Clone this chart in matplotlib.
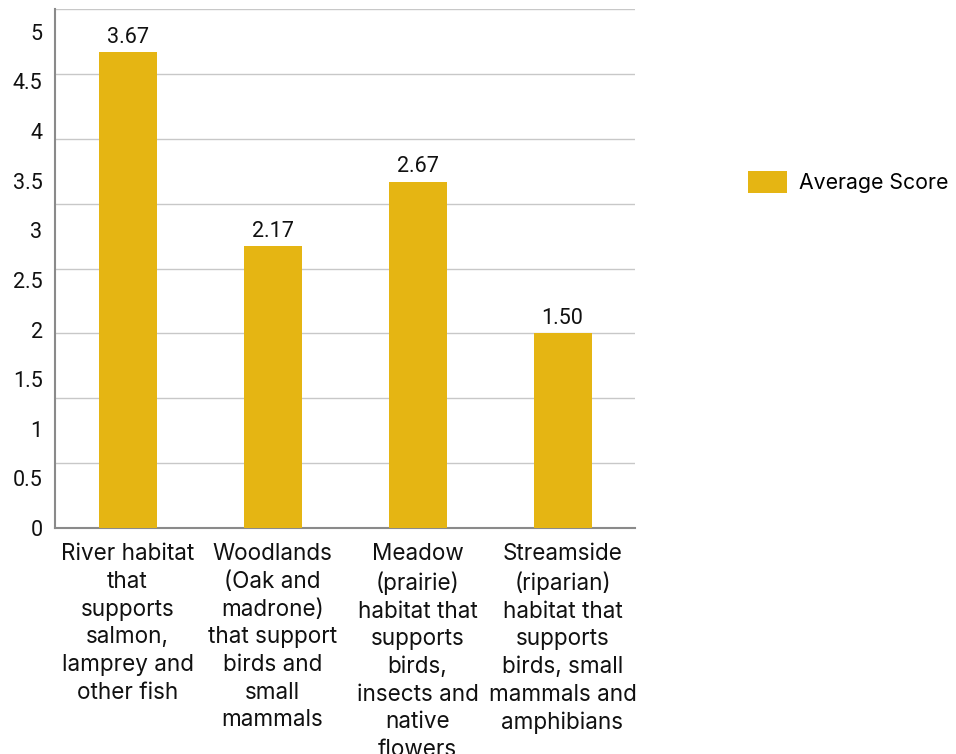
import matplotlib
matplotlib.use("Agg")
import matplotlib.pyplot as plt
import numpy as np
from matplotlib.patches import Patch

categories = [
    "River habitat\nthat\nsupports\nsalmon,\nlamprey and\nother fish",
    "Woodlands\n(Oak and\nmadrone)\nthat support\nbirds and\nsmall\nmammals",
    "Meadow\n(prairie)\nhabitat that\nsupports\nbirds,\ninsects and\nnative\nflowers",
    "Streamside\n(riparian)\nhabitat that\nsupports\nbirds, small\nmammals and\namphibians",
]
values = [3.67, 2.17, 2.67, 1.50]
value_labels = ["3.67", "2.17", "2.67", "1.50"]
tick_labels = ["0", "0.5", "1", "1.5", "2", "2.5", "3", "3.5", "4", "4.5", "5"]
series_name = "Average Score"

bar_color = "#E5B513"
W, H = 956, 754
fig = plt.figure(figsize=(W / 100, H / 100), dpi=100)
ax = fig.add_axes([55 / W, (H - 528) / H, 580 / W, 519 / H])

x = np.arange(len(categories))
ax.bar(x, values, width=0.4, color=bar_color, zorder=3)
ax.set_xlim(-0.5, len(categories) - 0.5)
ax.set_ylim(0, 4)
ax.set_yticks(np.arange(0, 4.01, 0.5))
ax.yaxis.grid(True, color="#c8c8c8", linewidth=1.0, zorder=0)
ax.tick_params(axis="y", length=0, labelleft=False)
ax.tick_params(axis="x", length=0, pad=11)
ax.set_xticks(x)
ax.set_xticklabels(categories, fontsize=16.2, family="Inter", linespacing=1.335,
                   ha="center", va="top", color="#111111")
for s in ["top", "right"]:
    ax.spines[s].set_visible(False)
for s in ["left", "bottom"]:
    ax.spines[s].set_color("#8a8a8a")
    ax.spines[s].set_linewidth(1.5)

for xi, v, lab in zip(x, values, value_labels):
    ax.annotate(lab, (xi, v), xytext=(0, 3), textcoords="offset points",
                ha="center", va="bottom", fontsize=15.5, family="Roboto",
                color="#111111")

# secondary label axis (labels as shown in the original)
ax2 = ax.twinx()
ax2.set_ylim(0, 5.23)
tick_vals = [float(t) for t in tick_labels]
ax2.set_yticks(tick_vals)
ax2.set_yticklabels(tick_labels, fontsize=15.5, family="Roboto", color="#111111")
ax2.yaxis.set_ticks_position("left")
ax2.yaxis.set_label_position("left")
ax2.tick_params(axis="y", length=0, pad=9)
for s in ax2.spines.values():
    s.set_visible(False)

handles = [Patch(facecolor=bar_color, edgecolor="none", label=series_name)]
fig.legend(handles=handles, loc="center left", bbox_to_anchor=(729 / W, 1 - 182 / H),
           frameon=False, prop={"family": "Inter", "size": 15.3},
           handlelength=1.85, handleheight=1.25, handletextpad=0.55)

fig.savefig("out.png", dpi=100)
